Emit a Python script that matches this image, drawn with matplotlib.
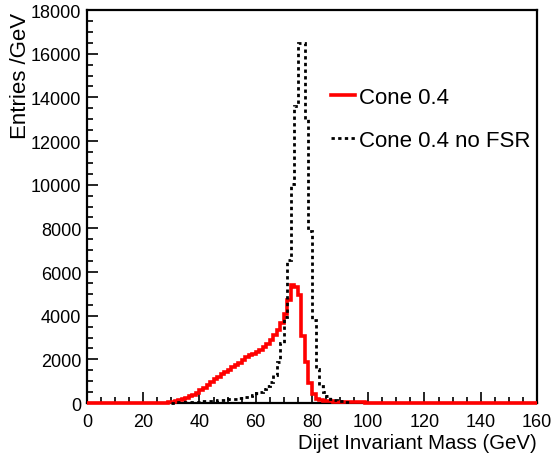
import numpy as np
import matplotlib.pyplot as plt
from matplotlib.ticker import MultipleLocator

# histogram binning: 128 bins of 1.25 GeV between 0 and 160
bin_width = 1.25
edges = np.arange(0, 160 + bin_width / 2, bin_width)

# Cone 0.4 (with FSR), values from the bin starting at 25 GeV
red_start = 25.0
red_counts = [10, 15, 20, 30, 50, 80, 120, 170, 230, 300,
              380, 470, 580, 700, 820, 950, 1080, 1200, 1320, 1430,
              1530, 1630, 1740, 1850, 1980, 2100, 2180, 2250, 2320, 2420,
              2560, 2720, 2900, 3100, 3350, 3650, 4100, 4700, 5400, 5300,
              4950, 3050, 1860, 900, 400, 200, 130, 100, 80, 70,
              60, 55, 50, 45, 40, 35, 30, 28, 25, 22]

# Cone 0.4 no FSR, values from the bin starting at 30 GeV
black_start = 30.0
black_counts = [20, 30, 35, 40, 45, 50, 55, 60, 70, 80,
                90, 100, 110, 120, 135, 150, 165, 180, 200, 225,
                250, 290, 330, 380, 440, 520, 620, 760, 950, 1300,
                1900, 2750, 3950, 6550, 10050, 13600, 16500, 16500, 13000, 7900,
                3800, 1550, 800, 500, 300, 200, 150, 100, 70, 50, 30]

labels = ["Cone 0.4", "Cone 0.4 no FSR"]

# full red histogram (zeros outside the filled range)
red_full = np.zeros(len(edges) - 1)
i0 = int(round(red_start / bin_width))
red_full[i0:i0 + len(red_counts)] = red_counts

j0 = int(round(black_start / bin_width))
black_edges = edges[j0:j0 + len(black_counts) + 1]

plt.rcParams['font.family'] = ['Liberation Sans', 'DejaVu Sans']

fig = plt.figure(figsize=(5.52, 4.6), dpi=100)
ax = fig.add_axes([0.1576, 0.1217, 0.8152, 0.8543])

ax.stairs(red_full, edges, color='#ff0000', linewidth=2.6, label=labels[0],
          baseline=None, clip_on=False, zorder=3)
ax.stairs(black_counts, black_edges, color='black', linewidth=2.0,
          linestyle=(0, (1.2, 1.2)), label=labels[1], baseline=None,
          clip_on=False, zorder=4)

ax.set_xlim(0, 160)
ax.set_ylim(0, 18000)

ax.xaxis.set_major_locator(MultipleLocator(20))
ax.xaxis.set_minor_locator(MultipleLocator(5))
ax.yaxis.set_major_locator(MultipleLocator(2000))
ax.yaxis.set_minor_locator(MultipleLocator(500))
ax.tick_params(which='both', direction='in', top=False, right=False,
               labelsize=13, width=1.2)
ax.tick_params(which='major', length=8, pad=4)
ax.tick_params(axis='x', which='major', pad=7)
ax.tick_params(which='minor', length=4)
for s in ax.spines.values():
    s.set_linewidth(1.6)

ax.set_xlabel("Dijet Invariant Mass (GeV)", fontsize=14.7, loc='right', labelpad=2)
ax.set_ylabel("Entries /GeV", fontsize=16, loc='top')
ax.yaxis.set_label_coords(-0.125, 0.995)

ax.legend(loc='upper left', bbox_to_anchor=(0.542, 0.805), frameon=False,
          fontsize=16, handlelength=1.1, handletextpad=0.15,
          labelspacing=1.0, borderpad=0, borderaxespad=0)

fig.savefig("out.png", dpi=100)
